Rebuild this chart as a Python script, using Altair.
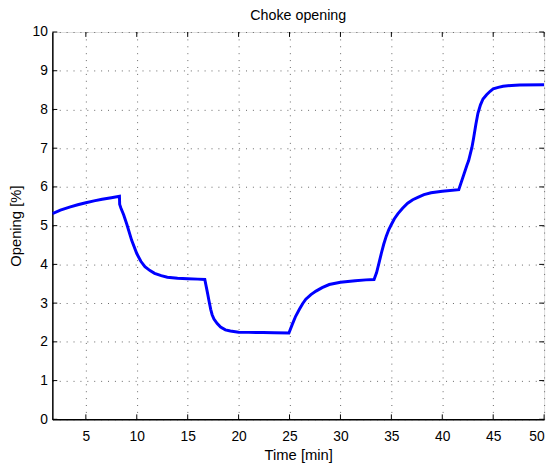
import altair as alt
import pandas as pd

# Time [min] and choke opening [%]
time_min = [
    1.71, 2.5, 3.4, 4.2, 5.0, 5.8, 6.6, 7.5, 8.30,
    8.32, 8.45, 8.71, 9.03, 9.5, 10.0, 10.4, 10.8, 11.3, 11.75, 12.4, 13.0, 14.0, 15.0, 16.0, 16.68,
    16.94, 17.1, 17.26, 17.4, 17.58, 17.9, 18.23, 18.7, 19.19, 20.0, 21.0, 22.4, 23.5, 24.94,
    25.3, 25.6, 25.97, 26.3, 26.6, 27.1, 27.6, 28.2, 28.9, 30.0, 31.45, 32.5, 33.3,
    33.55, 33.8, 34.03, 34.25, 34.5, 34.75, 35.0, 35.3, 35.65, 36.1, 36.6, 37.1, 37.6, 38.2, 38.9, 40.0, 41.62,
    42.42, 42.59, 42.91, 43.07, 43.3, 43.5, 43.75, 44.0, 44.35, 44.7, 45.0, 45.5, 45.97, 46.8, 47.6, 50.0,
]
opening_pct = [
    5.31, 5.40, 5.48, 5.54, 5.59, 5.64, 5.68, 5.72, 5.76,
    5.55, 5.45, 5.28, 5.03, 4.62, 4.28, 4.08, 3.94, 3.84, 3.77, 3.71, 3.67, 3.64, 3.63, 3.62, 3.61,
    3.27, 3.05, 2.84, 2.70, 2.59, 2.47, 2.38, 2.31, 2.28, 2.25, 2.245, 2.24, 2.235, 2.23,
    2.47, 2.66, 2.84, 2.99, 3.10, 3.22, 3.31, 3.40, 3.48, 3.54, 3.58, 3.60, 3.61,
    3.79, 4.05, 4.30, 4.52, 4.73, 4.90, 5.03, 5.18, 5.31, 5.45, 5.58, 5.67, 5.73, 5.80, 5.85, 5.89, 5.93,
    6.56, 6.68, 7.02, 7.25, 7.62, 7.90, 8.12, 8.27, 8.38, 8.47, 8.53, 8.57, 8.60, 8.62, 8.63, 8.64,
]
x_ticks = [5, 10, 15, 20, 25, 30, 35, 40, 45, 50]
y_ticks = [0, 1, 2, 3, 4, 5, 6, 7, 8, 9, 10]

W, H = 499, 393
FONT = "Liberation Sans"

df = pd.DataFrame({"t": time_min, "v": opening_pct})
xt = pd.DataFrame({"t": x_ticks})
yt = pd.DataFrame({"v": y_ticks})

xscale = alt.Scale(domain=[1.71, 50], nice=False, zero=False)
yscale = alt.Scale(domain=[0, 10], nice=False, zero=False)

xaxis = alt.Axis(values=x_ticks, title="Time [min]", grid=True, gridDash=[1, 6],
                 gridColor="#666666", gridWidth=1, tickSize=0,
                 domain=True, domainColor="black", domainWidth=1.5,
                 labelFont=FONT, labelFontSize=14, labelColor="black", labelPadding=10,
                 labelOverlap=False,
                 titleFont=FONT, titleFontSize=15, titleFontWeight="normal",
                 titleColor="black", titlePadding=5)
yaxis = alt.Axis(values=y_ticks, title="Opening [%]", grid=True, gridDash=[1, 6],
                 gridColor="#666666", gridWidth=1, tickSize=0,
                 domain=True, domainColor="black", domainWidth=1.5,
                 labelFont=FONT, labelFontSize=14, labelColor="black", labelPadding=5,
                 labelOverlap=False,
                 titleFont=FONT, titleFontSize=15, titleFontWeight="normal",
                 titleColor="black", titlePadding=9)

line = alt.Chart(df).mark_line(color="#0000ff", strokeWidth=3, clip=True).encode(
    x=alt.X("t:Q", scale=xscale, axis=xaxis),
    y=alt.Y("v:Q", scale=yscale, axis=yaxis),
)

tick_len = 5
xb = alt.Chart(xt).mark_rule(color="black", strokeWidth=1).encode(
    x=alt.X("t:Q", scale=xscale, axis=xaxis), y=alt.value(H), y2=alt.value(H - tick_len))
xtop = alt.Chart(xt).mark_rule(color="black", strokeWidth=1).encode(
    x=alt.X("t:Q", scale=xscale, axis=xaxis), y=alt.value(0), y2=alt.value(tick_len))
yl = alt.Chart(yt).mark_rule(color="black", strokeWidth=1).encode(
    y=alt.Y("v:Q", scale=yscale, axis=yaxis), x=alt.value(0), x2=alt.value(tick_len))
yr = alt.Chart(yt).mark_rule(color="black", strokeWidth=1).encode(
    y=alt.Y("v:Q", scale=yscale, axis=yaxis), x=alt.value(W - tick_len), x2=alt.value(W))

chart = alt.layer(line, xb, xtop, yl, yr).properties(
    width=W, height=H,
    title=alt.TitleParams("Choke opening", font=FONT, fontSize=14.5,
                          fontWeight="normal", color="black", offset=2),
    autosize=alt.AutoSizeParams(type="none"),
    padding={"left": 45, "top": 21, "right": 8, "bottom": 43},
).configure_view(stroke="black", strokeWidth=1.5).configure(background="white")

chart.save("out.html", embed_options={"renderer": "svg", "actions": False})
